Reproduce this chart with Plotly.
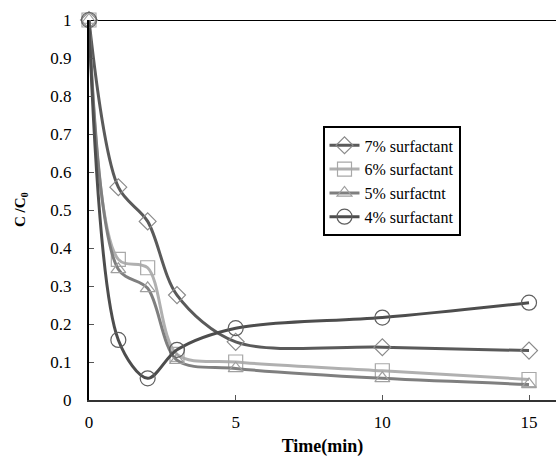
import plotly.graph_objects as go

time = [0, 1, 2, 3, 5, 10, 15]
s7 = [1.0, 0.56, 0.47, 0.276, 0.153, 0.139, 0.13]
s6 = [1.0, 0.37, 0.348, 0.12, 0.10, 0.077, 0.054]
s5 = [1.0, 0.344, 0.294, 0.105, 0.083, 0.057, 0.041]
s4 = [1.0, 0.158, 0.057, 0.132, 0.189, 0.217, 0.256]
names = ["7% surfactant", "6% surfactant", "5% surfactnt", "4% surfactant"]

series = [
    (s7, names[0], "#5a5a5a", "diamond-open", "#8a8a8a", 13),
    (s6, names[1], "#b0b0b0", "square-open", "#a8a8a8", 14),
    (s5, names[2], "#7f7f7f", "triangle-up-open", "#a0a0a0", 13),
    (s4, names[3], "#4d4d4d", "circle-open", "#5f5f5f", 15),
]

fig = go.Figure()
for ys, nm, lc, sym, mc, ms in series:
    fig.add_trace(go.Scatter(
        x=time, y=ys, name=nm, mode="lines+markers",
        line=dict(color=lc, width=3, shape="spline", smoothing=0.9),
        marker=dict(symbol=sym, size=ms, color=mc, line=dict(color=mc, width=1.2)),
        cliponaxis=False,
    ))

font = "Liberation Serif"
fig.update_layout(
    width=556, height=457,
    margin=dict(l=89, r=0, t=20, b=57),
    plot_bgcolor="white", paper_bgcolor="white",
    font=dict(family=font, size=17, color="black"),
    showlegend=True,
    legend=dict(x=0.5, y=0.72, xanchor="left", yanchor="top",
                bordercolor="black", borderwidth=2, bgcolor="white",
                font=dict(family=font, size=16), tracegroupgap=0,
                itemwidth=30),
    xaxis=dict(range=[0, 15.92], tickvals=[0, 5, 10, 15], ticks="inside", ticklen=5,
               tickcolor="#555", showline=True, linecolor="#333", linewidth=2,
               showgrid=False, zeroline=False, ticklabelstandoff=6,
               title=dict(text="<b>Time(min)</b>", standoff=11, font=dict(family=font, size=18)),
               tickfont=dict(family=font, size=17)),
    yaxis=dict(range=[0, 1], tickvals=[0, 0.1, 0.2, 0.3, 0.4, 0.5, 0.6, 0.7, 0.8, 0.9, 1],
               ticktext=["0", "0.1", "0.2", "0.3", "0.4", "0.5", "0.6", "0.7", "0.8", "0.9", "1"],
               ticks="inside", ticklen=5, tickcolor="#555", ticklabelstandoff=12,
               showline=True, linecolor="black", linewidth=2,
               showgrid=False, zeroline=False, tickfont=dict(family=font, size=17)),
    shapes=[dict(type="line", xref="paper", yref="y", x0=0, x1=1, y0=1, y1=1,
                 line=dict(color="black", width=2), layer="below")],
    annotations=[dict(text="<b>C /C<sub>0</sub></b>", xref="paper", yref="paper",
                      x=-0.1456, y=0.5, xanchor="center", yanchor="middle",
                      textangle=-90, showarrow=False,
                      font=dict(family=font, size=15))],
)
fig.write_html("out.html")
